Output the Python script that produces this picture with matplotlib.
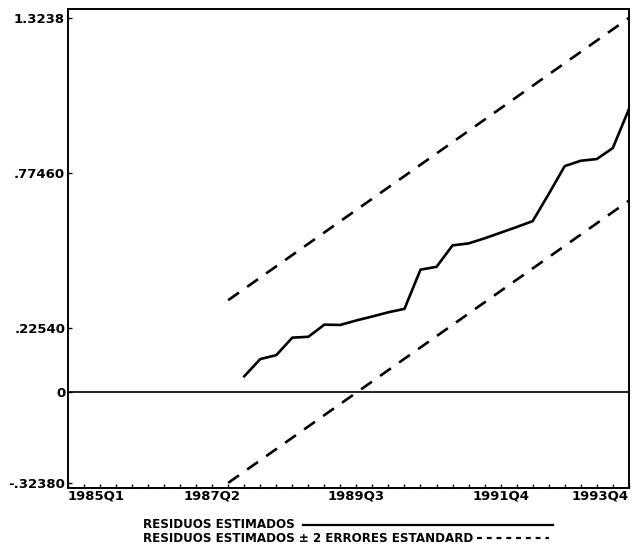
import numpy as np
import matplotlib
matplotlib.use("Agg")
import matplotlib.pyplot as plt
from matplotlib.lines import Line2D

plt.rcParams['font.family'] = ['DejaVu Sans']

# quarters 1985Q1 .. 1993Q4 (index 0..35)
quarter_labels = ['1985Q1', '1987Q2', '1989Q3', '1991Q4', '1993Q4']
label_idx = [0, 9, 18, 27, 35]
n_quarters = 36

# estimated residuals (from 1987Q4 = index 11)
res_start = 11
residuals = [0.054, 0.115, 0.129, 0.191, 0.194, 0.237, 0.236, 0.252, 0.266,
             0.281, 0.293, 0.432, 0.442, 0.518, 0.525, 0.543, 0.563, 0.583,
             0.604, 0.700, 0.799, 0.818, 0.824, 0.863, 1.000]

# +/- 2 standard error bands (straight lines, start and end points)
band_idx = [10, 35]
band_upper = [0.3238, 1.3238]
band_lower = [-0.3238, 0.6762]

yticks = [-0.3238, 0, 0.2254, 0.7746, 1.3238]
ytick_labels = ['-.32380', '0', '.22540', '.77460', '1.3238']

fig = plt.figure(figsize=(6.41, 5.50), dpi=100)
ax = fig.add_axes([0.106, 0.1127, 0.875, 0.871])

x_res = np.arange(res_start, res_start + len(residuals))
ax.plot(x_res, residuals, color='black', lw=1.9, solid_joinstyle='round')
ax.plot(band_idx, band_upper, color='black', lw=1.9, dashes=(5, 3.8))
ax.plot(band_idx, band_lower, color='black', lw=1.9, dashes=(5, 3.8))
ax.axhline(0, color='black', lw=1.2)

ax.set_xlim(0, n_quarters - 1)
ax.set_ylim(-0.342, 1.356)

ax.set_yticks(yticks)
ax.set_yticklabels(ytick_labels, fontsize=9.5, fontweight='bold')
ax.set_xticks(label_idx)
ax.set_xticklabels(quarter_labels, fontsize=9.5, fontweight='bold')
ax.set_xticks(np.arange(n_quarters), minor=True)
ax.tick_params(axis='y', direction='in', length=3, width=1, pad=2)
ax.tick_params(axis='x', which='both', direction='in', length=3, width=1, pad=1)
xl = ax.get_xticklabels()
xl[0].set_horizontalalignment('left')
xl[-1].set_horizontalalignment('right')

for s in ax.spines.values():
    s.set_linewidth(1.4)

# legend below the chart
fig.text(143 / 641, 1 - 524 / 550, 'RESIDUOS ESTIMADOS', fontsize=8.6,
         fontweight='bold', va='center', ha='left')
fig.text(143 / 641, 1 - 538 / 550, 'RESIDUOS ESTIMADOS ± 2 ERRORES ESTANDARD',
         fontsize=8.6, fontweight='bold', va='center', ha='left')
fig.add_artist(Line2D([303 / 641, 553 / 641], [1 - 525 / 550, 1 - 525 / 550],
                      color='black', lw=1.6))
fig.add_artist(Line2D([477 / 641, 549 / 641], [1 - 538 / 550, 1 - 538 / 550],
                      color='black', lw=1.6, dashes=(2.2, 2.2)))

fig.savefig('out.png', dpi=100)
